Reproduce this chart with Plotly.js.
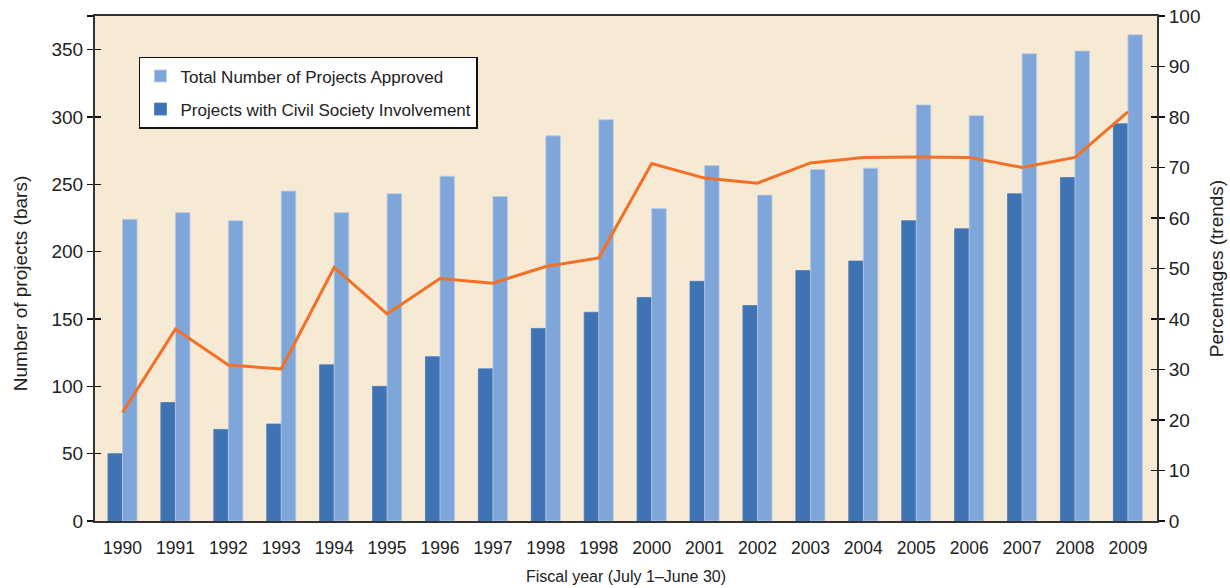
<!DOCTYPE html>
<html>
<head>
<meta charset="utf-8">
<script src="https://cdn.plot.ly/plotly-3.0.1.min.js"></script>
<style>
  html, body { margin: 0; padding: 0; background: #fff; }
  #plotArea { width: 1230px; height: 588px; }
</style>
</head>
<body>
<div id="plotArea"></div>
<script>
// fiscal years (the original labels 1999 as "1998")
var years = [1990, 1991, 1992, 1993, 1994, 1995, 1996, 1997, 1998, 1999,
             2000, 2001, 2002, 2003, 2004, 2005, 2006, 2007, 2008, 2009];
var yearLabels = ["1990", "1991", "1992", "1993", "1994", "1995", "1996", "1997", "1998", "1998",
                  "2000", "2001", "2002", "2003", "2004", "2005", "2006", "2007", "2008", "2009"];

var totalProjects = [224, 229, 223, 245, 229, 243, 256, 241, 286, 298,
                     232, 264, 242, 261, 262, 309, 301, 347, 349, 361];
var civilSociety = [50, 88, 68, 72, 116, 100, 122, 113, 143, 155,
                    166, 178, 160, 186, 193, 223, 217, 243, 255, 295];
var pctTrend = [21.5, 38, 30.9, 30.1, 50.2, 41, 48, 47.1, 50.4, 52.1,
                70.8, 67.9, 66.9, 70.9, 72, 72.1, 72, 70, 72, 81];

var leftTicks = [0, 50, 100, 150, 200, 250, 300, 350, 375];
var leftTickText = ["0", "50", "100", "150", "200", "250", "300", "350", ""];

var textColor = "#222";
var tickStyle = { ticklen: 6, tickwidth: 1.5, tickcolor: "#111" };

var traces = [
  {
    x: years,
    y: civilSociety,
    type: "bar",
    name: "Projects with Civil Society Involvement",
    marker: { color: "#3F73B3", line: { color: "#4A7CBA", width: 0.8 } },
    legendrank: 2,
    legendgroup: "b",
    hoverinfo: "y"
  },
  {
    x: years,
    y: totalProjects,
    type: "bar",
    name: "Total Number of Projects Approved",
    marker: { color: "#7EA6D8", line: { color: "#B9CDE6", width: 0.8 } },
    legendrank: 1,
    legendgroup: "a",
    hoverinfo: "y"
  },
  {
    x: years,
    y: pctTrend,
    type: "scatter",
    mode: "lines",
    yaxis: "y2",
    name: "Percentage",
    line: { color: "#F37024", width: 3 },
    showlegend: false
  },
  // empty helpers so the inner half of the crossing ticks gets drawn
  { x: [], y: [], type: "scatter", yaxis: "y3", showlegend: false },
  { x: [], y: [], type: "scatter", yaxis: "y4", showlegend: false }
];

var layout = {
  width: 1230,
  height: 588,
  margin: { l: 95, r: 73, t: 16, b: 67 },
  paper_bgcolor: "#ffffff",
  plot_bgcolor: "#F6EAD4",
  font: { family: "Liberation Sans, Arial, sans-serif", color: textColor },
  barmode: "group",
  bargap: 0.45,
  bargroupgap: 0,
  showlegend: true,
  legend: {
    x: 0.0414, y: 0.919, xanchor: "left", yanchor: "top",
    bgcolor: "#ffffff",
    bordercolor: "#111",
    borderwidth: 1.5,
    font: { size: 17, color: textColor },
    traceorder: "grouped",
    tracegroupgap: 8
  },
  xaxis: {
    range: [1989.48, 2009.55],
    tickmode: "array",
    tickvals: years,
    ticktext: yearLabels,
    ticks: "",
    ticklabelstandoff: 10,
    showgrid: false,
    zeroline: false,
    showline: true,
    linecolor: "#333",
    linewidth: 2,
    mirror: true,
    tickfont: { size: 17.5, color: textColor },
    title: { text: "Fiscal year (July 1\u2013June 30)", font: { size: 16, color: textColor }, standoff: 14 }
  },
  yaxis: Object.assign({
    range: [0, 375],
    tickmode: "array",
    tickvals: leftTicks,
    ticktext: leftTickText,
    ticks: "outside",
    showgrid: false,
    zeroline: false,
    showline: true,
    linecolor: "#333",
    linewidth: 2,
    tickfont: { size: 19, color: textColor }
  }, tickStyle),
  yaxis2: Object.assign({
    range: [0, 100],
    overlaying: "y",
    side: "right",
    dtick: 10,
    ticks: "outside",
    showgrid: false,
    zeroline: false,
    showline: true,
    linecolor: "#333",
    linewidth: 2,
    tickfont: { size: 19, color: textColor },
    title: { text: "Percentages (trends)", font: { size: 19, color: textColor }, standoff: 10 }
  }, tickStyle),
  yaxis3: Object.assign({
    range: [0, 375],
    overlaying: "y",
    side: "left",
    tickmode: "array",
    tickvals: leftTicks,
    ticks: "inside",
    showticklabels: false,
    showgrid: false,
    zeroline: false,
    showline: false
  }, tickStyle),
  yaxis4: Object.assign({
    range: [0, 100],
    overlaying: "y",
    side: "right",
    dtick: 10,
    ticks: "inside",
    showticklabels: false,
    showgrid: false,
    zeroline: false,
    showline: false
  }, tickStyle),
  annotations: [{
    text: "Number of projects (bars)",
    xref: "paper", yref: "paper",
    x: -0.0706, y: 0.469,
    xanchor: "center", yanchor: "middle",
    textangle: -90,
    showarrow: false,
    font: { size: 19, color: textColor }
  }]
};

Plotly.newPlot("plotArea", traces, layout, { displayModeBar: false, staticPlot: true });
</script>
</body>
</html>
